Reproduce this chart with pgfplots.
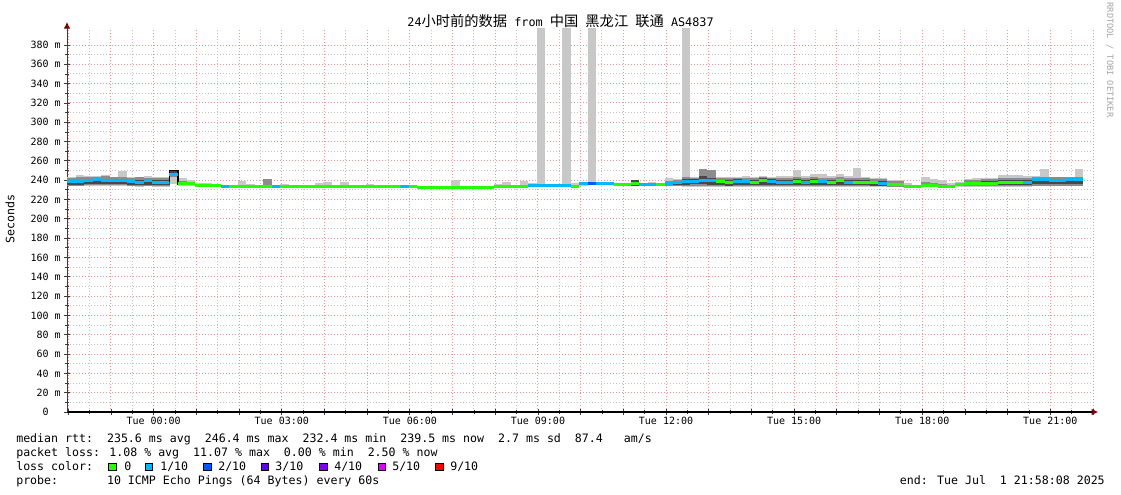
\documentclass[border=0pt]{standalone}
\usepackage{pgfplots}
\pgfplotsset{compat=1.18}
\usepackage{pgfplotstable}
\usetikzlibrary{arrows.meta}
\usepackage{fontspec}
\setmainfont{DejaVu Sans Mono}
\setmonofont{DejaVu Sans Mono}
\newfontfamily\cjk{Noto Sans CJK SC}

\definecolor{gridred}{RGB}{235,150,150}
\definecolor{gridgray}{RGB}{195,195,195}
\definecolor{smokeA}{RGB}{200,200,200}
\definecolor{smokeB}{RGB}{140,140,140}
\definecolor{smokeC}{RGB}{72,72,72}
\definecolor{axisgray}{RGB}{60,60,60}
\definecolor{arrowred}{HTML}{7F0000}
\definecolor{loss0}{HTML}{26FF00}
\definecolor{loss1}{HTML}{00B8FF}
\definecolor{loss2}{HTML}{0059FF}
\definecolor{loss3}{HTML}{5E00FF}
\definecolor{loss4}{HTML}{7E00FF}
\definecolor{loss5}{HTML}{DD00FF}
\definecolor{loss9}{HTML}{FF0000}

\newcommand\tickfont{\fontsize{7.5pt}{9pt}\selectfont}
\newcommand\lfont{\fontsize{8.7pt}{10pt}\selectfont}

% t = hours from Tue 00:00, 12-minute bins
% l1/h1 outer smoke, l2/h2 middle, l3/h3 inner, m = median
\pgfplotstableread{
t l1 h1 l2 h2 l3 h3 m
-2.03 233.5 243.7 234.5 242.5 235.5 240.5 238.8
-1.83 233.5 245.4 234.5 243.0 235.5 240.5 238.8
-1.63 233.8 244.4 234.8 243.0 235.8 241.0 239.5
-1.43 234.0 244.4 235.0 243.5 236.0 242.0 241.2
-1.23 234.0 245.0 235.0 244.5 236.0 241.5 240.2
-1.03 233.8 243.7 234.8 243.0 235.8 241.0 239.5
-0.83 233.8 249.5 234.8 243.0 235.8 241.5 240.2
-0.63 233.5 243.0 234.5 242.0 235.5 240.5 238.8
-0.43 233.3 243.7 234.3 243.0 235.3 240.0 238.1
-0.23 233.5 244.4 234.5 242.5 235.5 241.0 239.5
-0.03 233.3 243.0 234.3 242.0 235.3 240.0 238.1
0.17 233.3 243.7 234.3 242.0 235.0 240.0 237.8
0.37 236.0 250.0 243.0 249.8 244.5 249.5 246.4
0.57 234.5 242.5 235.0 239.0 236.6 236.6 236.6
0.77 234.5 240.2 235.0 237.0 236.4 236.4 236.4
0.97 233.5 237.5 234.9 234.9 234.9 234.9 234.9
1.17 233.5 236.6 234.6 234.6 234.6 234.6 234.6
1.37 233.0 235.6 234.2 234.2 234.2 234.2 234.2
1.57 232.5 234.0 233.3 233.3 233.3 233.3 233.3
1.77 232.5 234.0 233.3 233.3 233.3 233.3 233.3
1.97 232.5 239.5 233.5 233.5 233.5 233.5 233.5
2.17 232.5 236.4 233.5 233.5 233.5 233.5 233.5
2.37 232.5 234.0 233.5 233.5 233.5 233.5 233.5
2.57 232.5 241.0 234.0 240.9 233.5 233.5 233.5
2.77 232.5 235.0 233.5 233.5 233.5 233.5 233.5
2.97 232.5 235.6 233.5 233.5 233.5 233.5 233.5
3.17 232.5 234.0 233.5 233.5 233.5 233.5 233.5
3.37 232.5 234.0 233.5 233.5 233.5 233.5 233.5
3.57 232.5 234.0 233.5 233.5 233.5 233.5 233.5
3.77 232.5 236.7 233.5 233.5 233.5 233.5 233.5
3.97 232.5 238.5 233.5 233.5 233.5 233.5 233.5
4.17 232.5 234.0 233.5 233.5 233.5 233.5 233.5
4.37 232.5 238.0 233.5 233.5 233.5 233.5 233.5
4.57 232.5 234.0 233.5 233.5 233.5 233.5 233.5
4.77 232.5 234.0 233.5 233.5 233.5 233.5 233.5
4.97 232.5 235.6 233.5 233.5 233.5 233.5 233.5
5.17 232.5 234.0 233.5 233.5 233.5 233.5 233.5
5.37 232.5 234.0 233.5 233.5 233.5 233.5 233.5
5.57 232.5 234.0 233.5 233.5 233.5 233.5 233.5
5.77 232.5 234.0 233.5 233.5 233.5 233.5 233.5
5.97 232.3 234.0 233.3 233.3 233.3 233.3 233.3
6.17 231.5 233.5 232.5 232.5 232.5 232.5 232.5
6.37 231.5 233.5 232.5 232.5 232.5 232.5 232.5
6.57 231.5 233.5 232.5 232.5 232.5 232.5 232.5
6.77 231.5 233.5 232.5 232.5 232.5 232.5 232.5
6.97 231.5 239.9 232.5 232.5 232.5 232.5 232.5
7.17 231.5 233.5 232.5 232.5 232.5 232.5 232.5
7.37 231.5 233.5 232.5 232.5 232.5 232.5 232.5
7.57 231.5 233.5 232.5 232.5 232.5 232.5 232.5
7.77 231.5 233.5 232.5 232.5 232.5 232.5 232.5
7.97 232.3 235.6 233.3 233.3 233.3 233.3 233.3
8.17 232.3 237.7 233.3 233.3 233.3 233.3 233.3
8.37 232.3 234.0 233.3 233.3 233.3 233.3 233.3
8.57 232.5 238.7 233.5 233.5 233.5 233.5 233.5
8.77 233.0 236.6 234.6 234.6 234.6 234.6 234.6
8.97 233.0 420.0 234.6 234.6 234.6 234.6 234.6
9.17 233.0 235.6 234.2 234.2 234.2 234.2 234.2
9.37 233.0 235.0 234.2 234.2 234.2 234.2 234.2
9.57 233.0 420.0 235.0 235.0 235.0 235.0 235.0
9.77 232.5 236.6 233.9 233.9 233.9 233.9 233.9
9.97 234.5 237.5 235.0 237.5 235.5 237.5 236.6
10.17 235.0 420.0 235.5 238.5 236.0 238.0 237.0
10.37 235.5 237.8 237.0 237.0 237.0 237.0 237.0
10.57 235.0 237.5 236.6 236.6 236.6 236.6 236.6
10.77 234.5 236.5 235.7 235.7 235.7 235.7 235.7
10.97 234.5 236.5 235.9 235.9 235.9 235.9 235.9
11.17 234.4 240.3 234.4 240.3 234.4 240.3 236.8
11.37 234.0 236.6 235.6 235.6 235.6 235.6 235.6
11.57 234.0 237.7 235.3 235.3 235.3 235.3 235.3
11.77 234.0 236.6 235.3 235.3 235.3 235.3 235.3
11.97 233.5 242.3 234.0 239.5 234.8 238.0 236.3
12.17 233.5 241.4 234.5 240.5 235.5 239.0 237.4
12.37 233.0 420.0 234.0 243.0 235.5 241.0 238.4
12.57 233.0 243.7 234.0 242.5 236.0 241.0 239.0
12.77 233.0 251.3 234.0 251.3 236.0 244.0 239.6
12.97 233.0 250.6 234.0 250.6 235.5 242.0 239.6
13.17 232.5 243.0 233.5 242.5 235.0 240.5 238.5
13.37 232.5 243.0 233.5 242.0 234.5 240.0 237.4
13.57 232.5 243.0 233.5 242.5 235.0 241.0 239.0
13.77 232.5 244.4 233.5 242.5 235.0 240.5 238.4
13.97 232.5 243.7 233.5 242.5 235.0 240.5 238.1
14.17 232.8 244.4 233.8 243.0 235.5 242.0 240.1
14.37 232.5 243.7 233.5 242.5 235.0 241.0 238.8
14.57 232.5 244.4 233.5 242.5 235.0 240.5 238.1
14.77 232.5 244.0 233.5 242.0 234.8 240.0 237.4
14.97 232.5 250.6 233.5 243.0 235.0 241.0 239.0
15.17 232.5 244.4 233.5 242.0 234.8 240.0 237.4
15.37 232.5 246.4 233.5 243.0 235.0 241.0 239.0
15.57 232.5 246.4 233.5 242.5 235.0 240.5 238.4
15.77 232.5 244.4 233.5 242.0 234.8 240.0 237.8
15.97 232.8 246.4 233.8 243.0 235.5 241.5 239.8
16.17 232.5 244.4 233.5 242.0 234.8 240.0 237.4
16.37 232.5 252.7 233.5 242.5 234.8 240.0 237.8
16.57 232.5 243.0 233.5 242.0 234.8 240.0 237.8
16.77 232.5 242.5 233.5 241.5 234.5 239.5 237.4
16.97 232.5 242.5 233.5 241.0 234.5 239.0 236.6
17.17 232.5 240.5 233.3 239.5 234.0 237.5 235.3
17.37 232.5 239.8 233.3 239.0 234.0 237.0 235.3
17.57 232.5 236.6 233.0 235.0 233.6 233.6 233.6
17.77 232.5 235.0 233.0 234.5 233.6 233.6 233.6
17.97 233.0 243.7 233.5 238.0 234.0 236.0 234.7
18.17 233.0 241.5 233.5 237.0 234.0 236.0 234.7
18.37 232.8 239.8 233.3 236.0 233.8 233.8 233.8
18.57 232.5 237.5 233.0 235.5 233.5 233.5 233.5
18.77 233.0 237.8 233.8 237.0 234.5 236.5 235.7
18.97 233.0 241.5 234.0 240.0 235.0 238.5 236.8
19.17 233.0 242.0 234.0 240.5 235.0 238.5 236.8
19.37 233.0 242.0 234.0 241.0 235.0 239.0 237.0
19.57 233.0 242.0 234.0 241.0 235.0 239.0 237.0
19.77 233.0 245.0 234.0 242.5 235.2 240.0 237.8
19.97 233.0 245.4 234.0 242.5 235.2 240.0 237.8
20.17 233.0 245.4 234.0 242.5 235.2 240.0 237.8
20.37 233.0 244.0 234.0 242.5 235.2 240.0 237.8
20.57 233.5 244.0 234.5 243.0 235.8 242.0 240.3
20.77 233.5 251.6 234.5 243.0 235.8 242.0 240.3
20.97 233.5 243.7 234.5 243.0 235.8 241.5 239.6
21.17 233.5 243.7 234.5 243.0 235.8 241.5 239.6
21.37 233.5 243.7 234.5 243.0 236.0 242.5 241.0
21.57 233.5 251.6 234.5 243.0 236.0 242.0 240.5
21.77 240.5 240.5 240.5 240.5 240.5 240.5 240.5
}\smoke

% median where 1/10 of the pings were lost (each run ends with a closing row)
\pgfplotstableread{
t m
-2.03 238.8
-1.83 238.8
-1.63 239.5
-1.43 241.2
-1.23 240.2
-1.03 239.5
-0.83 240.2
-0.63 238.8
-0.43 238.1
-0.23 239.5
-0.03 238.1
0.17 237.8
0.37 246.4
0.57 246.4
nan nan
1.57 233.3
1.77 233.3
nan nan
2.77 233.5
2.97 233.5
nan nan
5.77 233.5
5.97 233.5
nan nan
8.77 234.6
8.97 234.6
9.17 234.2
9.37 234.2
9.57 235.0
9.77 235.0
nan nan
9.97 236.6
10.17 236.6
nan nan
10.37 237.0
10.57 236.6
10.77 236.6
nan nan
11.37 235.6
11.57 235.3
11.77 235.3
nan nan
11.97 236.3
12.17 237.4
12.37 238.4
12.57 239.0
12.77 239.6
12.97 239.6
13.17 239.6
nan nan
13.57 239.0
13.77 238.4
13.97 238.4
nan nan
14.37 238.8
14.57 238.1
14.77 237.4
14.97 237.4
nan nan
15.17 237.4
15.37 237.4
nan nan
15.57 238.4
15.77 238.4
nan nan
16.17 237.4
16.37 237.4
nan nan
16.97 236.6
17.17 236.6
nan nan
20.37 237.8
20.57 240.3
20.77 240.3
20.97 239.6
21.17 239.6
21.37 241.0
21.57 240.5
21.77 240.5
}\medone

% median where 2/10 were lost
\pgfplotstableread{
t m
10.17 237.0
10.37 237.0
}\medtwo

\begin{document}
\begin{tikzpicture}
\path[use as bounding box, fill=white] (0,0) rectangle (840.75pt,-370.5pt);

\begin{axis}[
  at={(50.25pt,-309pt)}, anchor=south west,
  scale only axis, width=769.5pt, height=288pt,
  xmin=-2.03, xmax=22, ymin=0, ymax=397.6,
  axis lines=left,
  axis line style={draw=axisgray, line width=0.75pt},
  x axis line style={draw=black, line width=1pt, -{Latex[length=5pt,width=5pt,color=arrowred]}, shorten >=-4pt},
  y axis line style={-{Latex[length=5pt,width=5pt,color=arrowred]}, shorten >=-4.5pt},
  xtick={-2,-1,...,22}, xticklabels={},
  minor x tick num=1,
  extra x ticks={0,3,...,21},
  extra x tick labels={Tue 00:00,Tue 03:00,Tue 06:00,Tue 09:00,Tue 12:00,Tue 15:00,Tue 18:00,Tue 21:00},
  extra x tick style={grid=none, major tick length=0pt},
  ytick={0,20,...,380},
  yticklabels={0\phantom{mm},20 m,40 m,60 m,80 m,100 m,120 m,140 m,160 m,180 m,200 m,220 m,240 m,260 m,280 m,300 m,320 m,340 m,360 m,380 m},
  minor y tick num=1,
  grid=both,
  major grid style={draw=gridred, line width=0.75pt, dash pattern=on 0.75pt off 1.5pt},
  minor grid style={draw=gridgray, line width=0.75pt, dash pattern=on 0.75pt off 1.5pt},
  tick align=center,
  major tick length=4pt, minor tick length=2.5pt,
  tick style={draw=axisgray, line width=0.6pt},
  xticklabel style={font=\tickfont, anchor=base, inner sep=0pt, yshift=-9.6pt},
  yticklabel style={font=\tickfont, anchor=east, inner sep=0pt, xshift=-2.5pt},
  unbounded coords=jump,
]
% smoke: one vertical bar per 12-minute bin, as wide as the bin
\addplot[draw=smokeA, line width=6.45pt, quiver={u=0, v=\thisrow{h1}-\thisrow{l1}}]
  table[x expr=\thisrow{t}+0.1, y=l1] {\smoke};
\addplot[draw=smokeB, line width=6.45pt, quiver={u=0, v=\thisrow{h2}-\thisrow{l2}}]
  table[x expr=\thisrow{t}+0.1, y=l2] {\smoke};
\addplot[draw=smokeC, line width=6.45pt, quiver={u=0, v=\thisrow{h3}-\thisrow{l3}}]
  table[x expr=\thisrow{t}+0.1, y=l3] {\smoke};

% black outline round the bin with the highest median
\addplot[draw=black, line width=0.9pt, mark=none] coordinates {(0.37,237.8) (0.37,249.8) (0.57,249.8) (0.57,235.0)};

% median, coloured by packet loss
\addplot[jump mark left, draw=loss0, line width=2.25pt, mark=none] table[x=t, y=m] {\smoke};
\addplot[jump mark left, draw=loss1, line width=2.25pt, mark=none] table[x=t, y=m] {\medone};
\addplot[jump mark left, draw=loss2, line width=2.25pt, mark=none] table[x=t, y=m] {\medtwo};
\end{axis}

% title and side texts
\node[anchor=base, inner sep=0pt, font=\fontsize{8.85pt}{10pt}\selectfont]
  at (420.4pt,-19.5pt)
  {24{\cjk\fontsize{10.7pt}{12pt}\selectfont 小时前的数据} from {\cjk\fontsize{10.7pt}{12pt}\selectfont 中国} {\cjk\fontsize{10.7pt}{12pt}\selectfont 黑龙江} {\cjk\fontsize{10.7pt}{12pt}\selectfont 联通} AS4837};
\node[rotate=90, inner sep=0pt, font=\lfont] at (7.5pt,-164.25pt) {Seconds};
\node[rotate=-90, inner sep=0pt, text=black!35, font=\fontsize{6.5pt}{7pt}\selectfont]
  at (832.5pt,-45pt) {RRDTOOL / TOBI OETIKER};

% statistics below the chart
\node[anchor=base west, inner sep=0pt, font=\lfont] at (12pt,-331.9pt)
  {median rtt:~~235.6 ms avg~~246.4 ms max~~232.4 ms min~~239.5 ms now~~2.7 ms sd~~87.4~~~am/s};
\node[anchor=base west, inner sep=0pt, font=\lfont] at (12pt,-342.4pt)
  {packet loss: 1.08 \% avg~~11.07 \% max~~0.00 \% min~~2.50 \% now};
\node[anchor=base west, inner sep=0pt, font=\lfont] at (12pt,-352.9pt) {loss color:};
\foreach \sx/\tx/\col/\lab in {81.4/93/loss0/0, 109.1/120/loss1/1\slash 10, 152.7/163.5/loss2/2\slash 10,
    195.8/206.3/loss3/3\slash 10, 239.7/250.5/loss4/4\slash 10, 283.5/294/loss5/5\slash 10, 326.8/337.5/loss9/9\slash 10} {
  \draw[fill=\col, draw=black, line width=0.75pt] (\sx pt,-347.6pt) rectangle ++(5.6pt,-5.6pt);
  \node[anchor=base west, inner sep=0pt, font=\lfont] at (\tx pt,-352.9pt) {\lab};
}
\node[anchor=base west, inner sep=0pt, font=\lfont] at (12pt,-363.4pt)
  {probe:~~~~~~~10 ICMP Echo Pings (64 Bytes) every 60s};
\node[anchor=base east, inner sep=0pt, font=\lfont] at (828.75pt,-363.4pt)
  {end: Tue Jul~~1 21:58:08 2025};
\end{tikzpicture}
\end{document}
